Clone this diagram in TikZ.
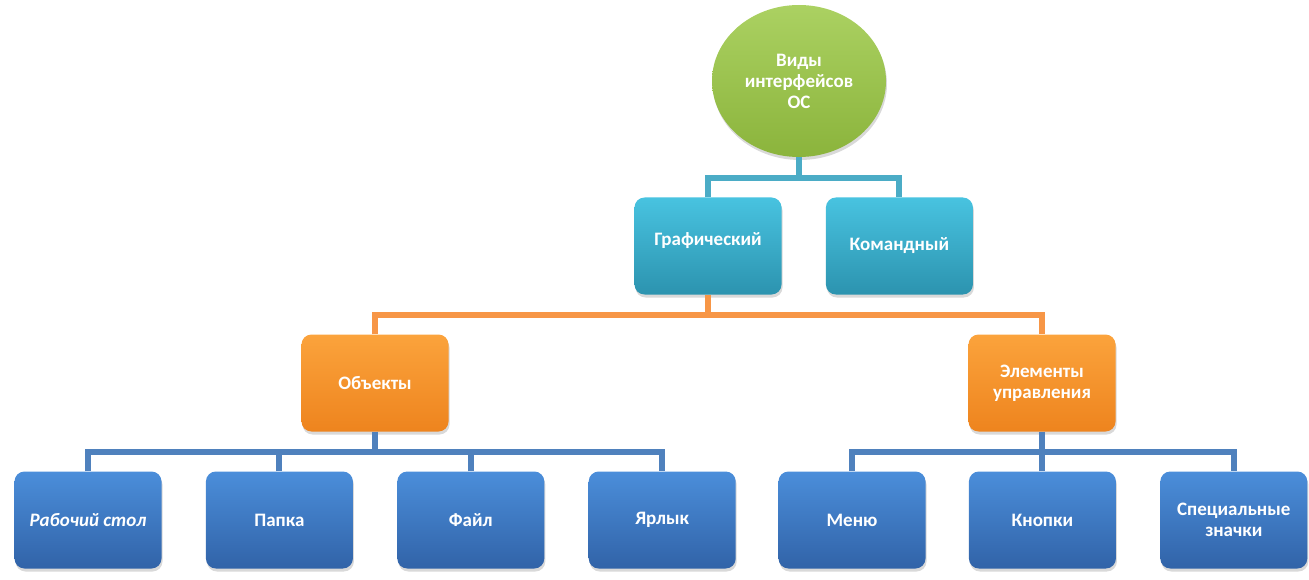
\documentclass[tikz,border=0pt]{standalone}
\usepackage{fontspec}
\setmainfont{Carlito}
\usetikzlibrary{shapes.geometric, positioning, shadows}

\definecolor{greenT}{HTML}{ABD162}
\definecolor{greenB}{HTML}{8BB43C}
\definecolor{tealT}{HTML}{48C3E0}
\definecolor{tealB}{HTML}{2C93AF}
\definecolor{orangeT}{HTML}{FBA33C}
\definecolor{orangeB}{HTML}{EE841E}
\definecolor{blueT}{HTML}{4B8EDA}
\definecolor{blueB}{HTML}{3163A8}
\definecolor{tealLine}{HTML}{4BACC6}
\definecolor{orangeLine}{HTML}{F79646}
\definecolor{blueLine}{HTML}{4F81BD}

\begin{document}
\begin{tikzpicture}[
        x=1pt, y=-1pt,
        node distance=44pt,
        box/.style={rectangle, rounded corners=10pt, minimum width=147pt, minimum height=97pt, align=center, text=white, font=\fontsize{19}{21}\selectfont\bfseries, drop shadow={opacity=0.3, shadow xshift=1pt, shadow yshift=-3pt}},
        tealbox/.style={box, top color=tealT, bottom color=tealB},
        orangebox/.style={box, top color=orangeT, bottom color=orangeB},
        bluebox/.style={box, top color=blueT, bottom color=blueB},
        link/.style={line width=6pt}
    ]
        \useasboundingbox (0,0) rectangle (1309,580);

        \node[ellipse, minimum width=174pt, minimum height=152pt, top color=greenT, bottom color=greenB, drop shadow={opacity=0.3, shadow xshift=1pt, shadow yshift=-3pt}, text=white, align=center, font=\fontsize{19}{21}\selectfont\bfseries] (kinds) at (799,81) {Виды\\интерфейсов\\ОС};

        \node[tealbox] (graphic) at (708,246) {\raisebox{14pt}{Графический}};
        \node[tealbox, right=44pt of graphic] (command) {Командный};

        \node[orangebox] (objects) at (375,383) {Объекты};
        \node[orangebox] (controls) at (1042,383) {Элементы\\управления};

        \node[bluebox] (desktop) at (88,520) {\itshape Рабочий стол};
        \node[bluebox, right=of desktop] (folder) {Папка};
        \node[bluebox, right=of folder] (file) {Файл};
        \node[bluebox, right=of file] (shortcut) {Ярлык};

        \node[bluebox] (menu) at (852,520) {Меню};
        \node[bluebox, right=43pt of menu] (buttons) {Кнопки};
        \node[bluebox, right=44pt of buttons] (icons) {Специальные\\значки};

        % first level
        \draw[link, tealLine] (kinds.south) -- ++(0,22);
        \draw[link, tealLine] (graphic.north) -- ++(0,-19) -| (command.north);

        % second level
        \draw[link, orangeLine] (graphic.south) -- ++(0,21);
        \draw[link, orangeLine] (objects.north) -- ++(0,-19) -| (controls.north);

        % third level
        \draw[link, blueLine] (objects.south) -- ++(0,22);
        \draw[link, blueLine] (desktop.north) -- ++(0,-19) -| (shortcut.north);
        \draw[link, blueLine] (folder.north) -- ++(0,-19);
        \draw[link, blueLine] (file.north) -- ++(0,-19);
        \draw[link, blueLine] (controls.south) -- ++(0,22);
        \draw[link, blueLine] (menu.north) -- ++(0,-19) -| (icons.north);
        \draw[link, blueLine] (buttons.north) -- ++(0,-19);
    \end{tikzpicture}
\end{document}
